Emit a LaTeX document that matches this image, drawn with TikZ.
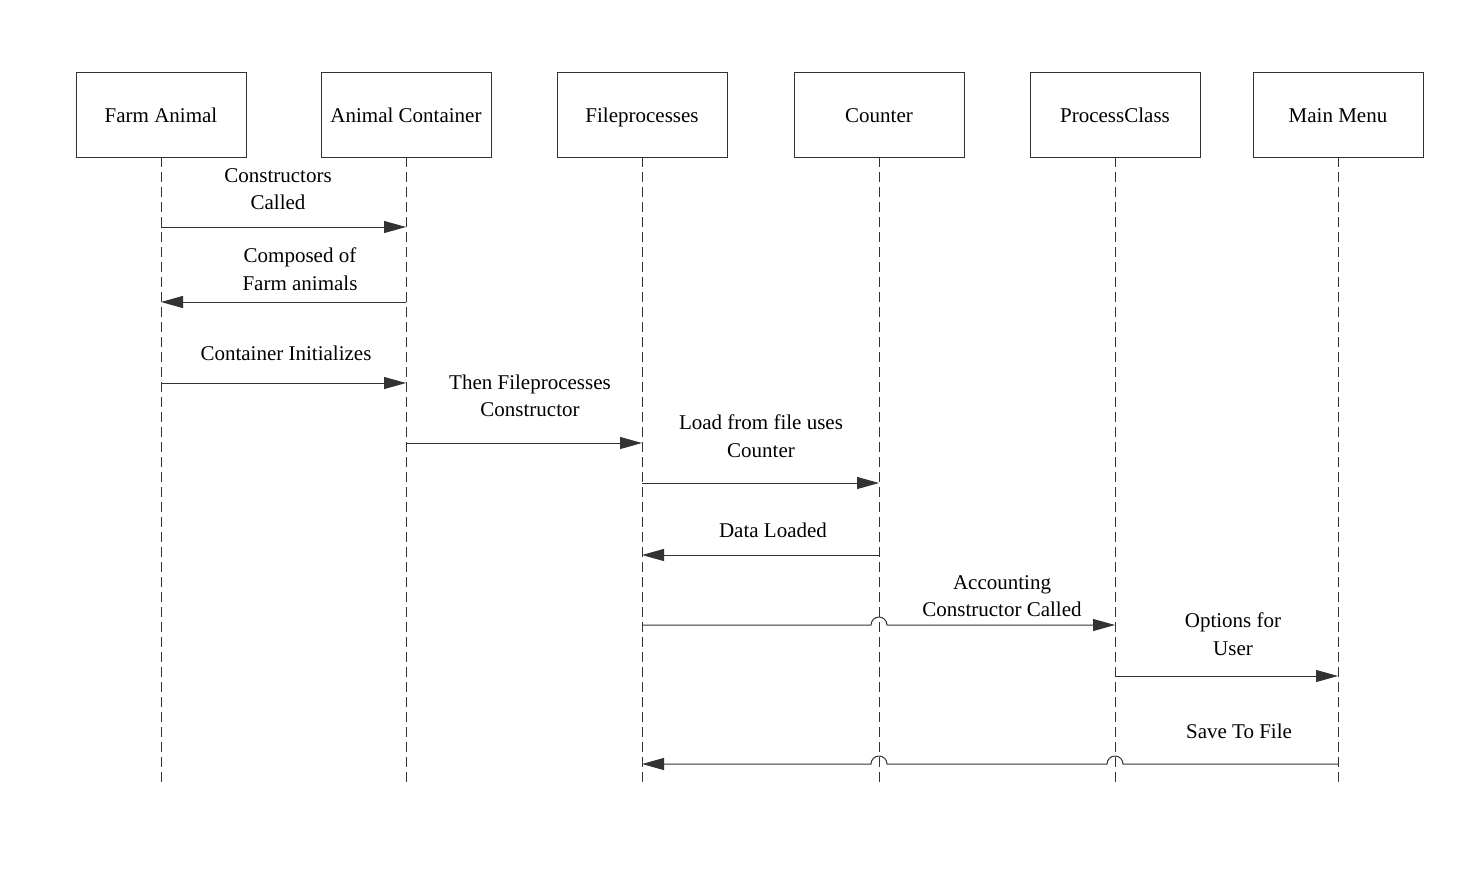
\documentclass[tikz,border=0pt]{standalone}
\usepackage{fontspec}
\setmainfont{Liberation Serif}
\usetikzlibrary{arrows.meta}
\definecolor{ln}{HTML}{333333}
\begin{document}
\begin{tikzpicture}[x=1pt,y=-1pt,
  obj/.style={draw=ln,line width=0.9pt,minimum width=170pt,minimum height=85pt,inner sep=0pt,text height=16pt,text depth=0pt,font=\fontsize{21}{26}\selectfont},
  life/.style={draw=ln,line width=0.8pt,dash pattern=on 10pt off 5pt},
  msg/.style={draw=ln,line width=1pt,-{Triangle[length=22pt,width=12pt]}},
  lbl/.style={align=center,inner sep=0pt,font=\fontsize{21}{27.5}\selectfont}]
\useasboundingbox (0,0) rectangle (1464,873);
\node[obj] (fa) at (161,114.5) {Farm Animal};
\node[obj] (ac) at (406,114.5) {Animal Container};
\node[obj] (fp) at (642,114.5) {Fileprocesses};
\node[obj] (co) at (879,114.5) {Counter};
\node[obj] (pc) at (1115,114.5) {ProcessClass};
\node[obj] (mm) at (1338,114.5) {Main Menu};
% lifeline ends
\foreach \n/\x in {fa/161,ac/406,fp/642,co/879,pc/1115,mm/1338}{
  \coordinate (\n end) at (\x,782);
  \draw[life] (\n.south) -- (\n end);
}
% message points
\coordinate (m1a) at (161,227); \coordinate (m1b) at (406,227);
\coordinate (m2a) at (406,302); \coordinate (m2b) at (161,302);
\coordinate (m3a) at (161,383); \coordinate (m3b) at (406,383);
\coordinate (m4a) at (406,443); \coordinate (m4b) at (642,443);
\coordinate (m5a) at (642,483); \coordinate (m5b) at (879,483);
\coordinate (m6a) at (879,555); \coordinate (m6b) at (642,555);
\coordinate (m7a) at (642,625); \coordinate (m7b) at (1115,625);
\coordinate (m8a) at (1115,676); \coordinate (m8b) at (1338,676);
\coordinate (m9a) at (1338,764); \coordinate (m9b) at (642,764);
\draw[msg] (m1a) -- (m1b);
\draw[msg] (m2a) -- (m2b);
\draw[msg] (m3a) -- (m3b);
\draw[msg] (m4a) -- (m4b);
\draw[msg] (m5a) -- (m5b);
\draw[msg] (m6a) -- (m6b);
\draw[msg] (m7a) -- (871,625) arc (180:360:8) -- (m7b);
\draw[msg] (m8a) -- (m8b);
\draw[msg] (m9a) -- (1123,764) arc (0:-180:8) -- (887,764) arc (0:-180:8) -- (m9b);
% labels
\node[lbl] (l1) at (278,189) {Constructors\\Called};
\node[lbl] (l2) at (300,269) {Composed of\\Farm animals};
\node[lbl] (l3) at (286,353) {Container Initializes};
\node[lbl] (l4) at (530,396) {Then Fileprocesses\\Constructor};
\node[lbl] (l5) at (761,436) {Load from file uses\\Counter};
\node[lbl] (l6) at (773,530) {Data Loaded};
\node[lbl] (l7) at (1002,596) {Accounting\\Constructor Called};
\node[lbl] (l8) at (1233,634) {Options for\\User};
\node[lbl] (l9) at (1239,731) {Save To File};
\end{tikzpicture}
\end{document}
